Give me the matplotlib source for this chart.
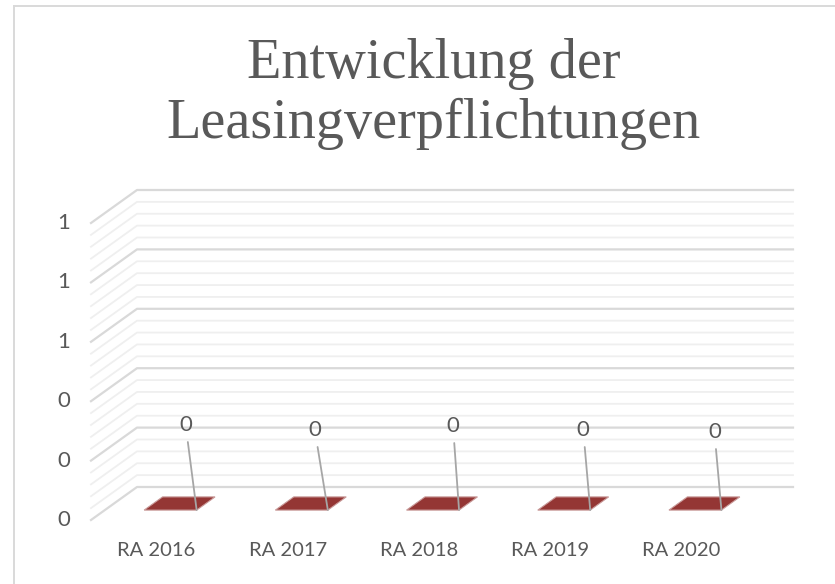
import matplotlib
matplotlib.use("Agg")
import matplotlib.pyplot as plt
from matplotlib.patches import Polygon
from matplotlib.lines import Line2D
import numpy as np

# data
categories = ["RA 2016", "RA 2017", "RA 2018", "RA 2019", "RA 2020"]
values = [0, 0, 0, 0, 0]
y_major = [0.0, 0.2, 0.4, 0.6, 0.8, 1.0]
title = "Entwicklung der\nLeasingverpflichtungen"

# look
bar_color = "#943634"
bar_edge = "#c99a99"
grid_major = "#d9d9d9"
grid_minor = "#efefef"
text_col = "#595959"
lead_col = "#a6a6a6"

W, H = 835, 584
fig = plt.figure(figsize=(W / 100, H / 100), dpi=100)

# chart border (top + left visible)
fig.add_artist(Line2D([13.5 / W, 1.0], [1 - 5.5 / H, 1 - 5.5 / H], color=grid_major, lw=1.4))
fig.add_artist(Line2D([13.5 / W, 13.5 / W], [0.0, 1 - 5.5 / H], color=grid_major, lw=1.4))

fig.text(434 / W, 1 - 94 / H, title, ha="center", va="center", fontsize=40.5,
         family="Liberation Serif", color=text_col, linespacing=1.2)

# back wall of the 3d box
ax = fig.add_axes([137 / W, 1 - 487 / H, 656 / W, 297 / H])
ax.set_xlim(-0.5, len(categories) - 0.5)
ax.set_ylim(0, 1)
ax.axis("off")

# depth offsets (data units for full depth)
DX = 46 / (656 / len(categories))
DY = 33 / 297


def proj(x, v, d):
    return x - d * DX, v - d * DY


x_left, x_right = -0.5, len(categories) - 0.5

# minor + major gridlines, back wall and left wall
minor = np.round(np.arange(0, 1.0001, 0.04), 3)
for v in minor:
    if np.any(np.isclose(v, y_major)):
        continue
    fx, fy = proj(x_left, v, 1)
    ax.plot([x_right, x_left, fx], [v, v, fy], color=grid_minor, lw=1.3, clip_on=False, zorder=1)
for v in y_major:
    fx, fy = proj(x_left, v, 1)
    ax.plot([x_right, x_left, fx], [v, v, fy], color=grid_major, lw=1.6, clip_on=False, zorder=2)
    ax.annotate(f"{v:.0f}", xy=(fx, fy), xytext=(-21, 0), textcoords="offset pixels",
                ha="right", va="center", fontsize=16, family="Lato", color=text_col,
                annotation_clip=False)

# bars (3d boxes, depth 0.3 .. 0.7)
bw = 0.2
lab_off = [(-11, 85), (-13, 80), (-6, 84), (-7, 80), (-7, 78)]
for i, val in enumerate(values):
    x0, x1 = i - bw, i + bw
    top = [proj(x0, val, 0.7), proj(x1, val, 0.7), proj(x1, val, 0.3), proj(x0, val, 0.3)]
    if val > 0:
        front = [proj(x0, 0, 0.7), proj(x1, 0, 0.7), proj(x1, val, 0.7), proj(x0, val, 0.7)]
        side = [proj(x1, 0, 0.7), proj(x1, 0, 0.3), proj(x1, val, 0.3), proj(x1, val, 0.7)]
        ax.add_patch(Polygon(front, closed=True, fc=bar_color, ec=bar_edge, lw=0.8, clip_on=False, zorder=4))
        ax.add_patch(Polygon(side, closed=True, fc="#7a2b2a", ec=bar_edge, lw=0.8, clip_on=False, zorder=4))
    ax.add_patch(Polygon(top, closed=True, fc=bar_color, ec=bar_edge, lw=0.8, clip_on=False, zorder=4))

    cx, cy = proj(x1, val, 0.7)
    ax.annotate(f"{val:.0f}", xy=(cx, cy), xytext=lab_off[i], textcoords="offset pixels",
                ha="center", va="center", fontsize=16, family="Lato", color=text_col,
                annotation_clip=False, zorder=6,
                arrowprops=dict(arrowstyle="-", color=lead_col, lw=1.3, shrinkA=3, shrinkB=0))

    lx, ly = proj(i, 0, 1)
    ax.annotate(categories[i], xy=(lx, ly), xytext=(0, -31), textcoords="offset pixels",
                ha="center", va="center", fontsize=14.5, family="Lato", color=text_col,
                annotation_clip=False)

fig.savefig("out.png", dpi=100)
